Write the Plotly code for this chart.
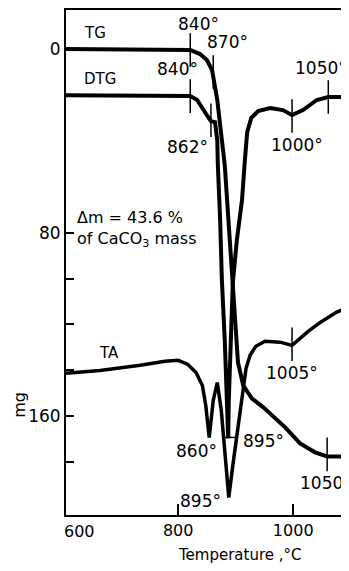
import plotly.graph_objects as go

# ---- data (temperature in °C, mass scale in mg) ----
tg_temp = [605, 821, 838, 850, 859, 868, 876, 881, 888, 895, 899, 904, 913, 928, 948, 986, 1012, 1038, 1059, 1097]
tg_mg = [0, 0.4, 2.2, 4.8, 9.2, 22.2, 39.7, 50.6, 76.7, 102.0, 122.5, 136.5, 146.5, 152.2, 156.1, 164.8, 171.8, 175.7, 177.5, 177.5]

dtg_temp = [605, 821, 833, 843, 852, 857, 864, 868, 869, 873, 876, 881, 885, 887,
            888, 892, 895, 902, 911, 916, 920, 927, 939, 960, 982, 998, 1017, 1041, 1061, 1097]
dtg_mg = [20.1, 20.5, 22.2, 25.7, 29.6, 31.4, 31.8, 39.7, 50.6, 74.6, 100.7, 126.9, 153.0, 169.6,
          153.0, 126.9, 102.0, 83.3, 65.8, 48.4, 36.2, 30.1, 27.0, 25.7, 26.6, 28.8, 26.6, 22.2, 20.9, 20.9]

ta_temp = [605, 664, 734, 777, 800, 817, 831, 842, 848, 854, 861, 868, 875, 882, 888,
           895, 904, 913, 918, 925, 935, 951, 977, 998, 1008, 1026, 1047, 1075, 1097]
ta_mg = [141.3, 140.0, 137.8, 136.0, 135.6, 137.4, 140.9, 146.5, 155.3, 169.3, 153.0, 145.3, 157.5, 177.1, 195.4,
         181.4, 165.2, 147.8, 139.1, 133.4, 129.5, 127.3, 127.7, 129.1, 126.9, 123.0, 119.1, 114.7, 112.5]

# vertical marks on the curves
mark_temp = [821, 861, 821, 857, 998, 1061, 998, 1059]
mark_mg = [0.4, 10.0, 20.5, 31.0, 29.2, 20.9, 128.6, 176.6]
# horizontal leader at the DTG minimum
lead_temp = [892]
lead_mg = [169.2]

x_tickvals = [800, 1000]
x_ticktext = ["800", "1000"]
y_tickvals = [0, 80, 160]
y_ticktext = ["0", "80", "160"]
y_minorvals = [100, 120, 140, 180]

FONT = "DejaVu Sans"
BLACK = "#000000"

fig = go.Figure()
fig.add_trace(go.Scatter(x=tg_temp, y=tg_mg, mode="lines", line=dict(color=BLACK, width=4), name="TG"))
fig.add_trace(go.Scatter(x=dtg_temp, y=dtg_mg, mode="lines", line=dict(color=BLACK, width=4), name="DTG"))
fig.add_trace(go.Scatter(x=ta_temp, y=ta_mg, mode="lines", line=dict(color=BLACK, width=3.5), name="TA"))
fig.add_trace(go.Scatter(x=mark_temp, y=mark_mg, mode="markers",
                         marker=dict(symbol="line-ns", size=24, line=dict(color=BLACK, width=1.5))))
fig.add_trace(go.Scatter(x=lead_temp, y=lead_mg, mode="markers",
                         marker=dict(symbol="line-ew", size=9, line=dict(color=BLACK, width=1.5))))

ann = []
def txt(x, y, s, xanchor="center", size=16, xref="x", yref="y", angle=0):
    ann.append(dict(x=x, y=y, xref=xref, yref=yref, text=s, showarrow=False,
                    xanchor=xanchor, yanchor="middle", textangle=angle,
                    font=dict(family=FONT, size=size, color=BLACK)))

txt(633, -7.0, "TG", xanchor="left", size=15)
txt(633, 13.1, "DTG", xanchor="left", size=15)
txt(836, -10.9, "840°", size=17)
txt(885, -3.1, "870°", size=17)
txt(798, 8.7, "840°", size=17)
txt(1048, 8.3, "1050°", size=17)
txt(817, 42.7, "862°", size=17)
txt(1007, 41.9, "1000°", size=17)
txt(621, 73.2, "Δm = 43.6 %", xanchor="left", size=16)
txt(621, 82.8, "of CaCO<sub>3</sub> mass", xanchor="left", size=16)
txt(680, 132.5, "TA", size=15)
txt(998, 141.3, "1005°", size=17)
txt(831, 175.3, "860°", size=17)
txt(949, 170.9, "895°", size=17)
txt(1008, 189.2, "1050°", xanchor="left", size=17)
txt(838, 197.1, "895°", size=17)
txt(0.049, -0.032, "600", xref="paper", yref="paper", size=16)
txt(0.615, -0.079, "Temperature ,°C", xref="paper", yref="paper", size=15)
txt(-0.163, 0.218, "mg", xref="paper", yref="paper", size=16, angle=-90)

# the page body adds an 8 px margin, so the figure is sized to fit the window
fig.update_layout(
    width=341, height=563,
    margin=dict(l=58, r=0, t=2, b=56),
    paper_bgcolor="white", plot_bgcolor="white",
    showlegend=False,
    annotations=ann,
    font=dict(family=FONT, color=BLACK),
)
fig.update_xaxes(range=[605, 1097], showgrid=False, zeroline=False,
                 showline=True, linecolor=BLACK, linewidth=2, mirror=True,
                 ticks="inside", ticklen=11, tickwidth=1.5, tickcolor=BLACK,
                 tickvals=x_tickvals, ticktext=x_ticktext,
                 tickfont=dict(family=FONT, size=16, color=BLACK))
fig.update_yaxes(range=[203, -17], showgrid=False, zeroline=False,
                 showline=True, linecolor=BLACK, linewidth=2,
                 ticks="inside", ticklen=8, tickwidth=1.5, tickcolor=BLACK,
                 tickvals=y_tickvals, ticktext=y_ticktext,
                 minor=dict(tickmode="array", tickvals=y_minorvals, ticks="inside",
                            ticklen=8, tickwidth=1.5, tickcolor=BLACK),
                 tickfont=dict(family=FONT, size=17, color=BLACK))

fig.write_html("out.html")
